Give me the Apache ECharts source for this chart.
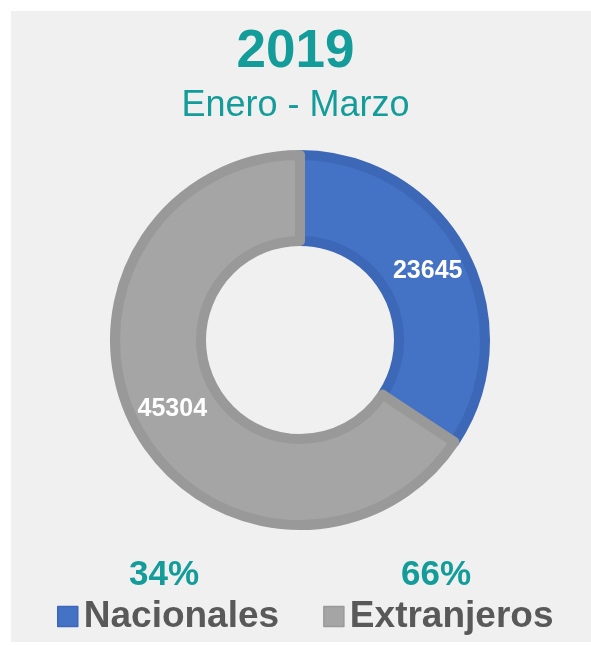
<!DOCTYPE html>
<html>
<head>
<meta charset="utf-8">
<script src="https://cdn.jsdelivr.net/npm/echarts@6/dist/echarts.min.js"></script>
<style>
  body { margin: 0; background: #ffffff; }
  .panel { position: absolute; left: 11px; top: 11px; width: 580px; height: 631px; background: #f0f0f0; }
  #chart { position: absolute; left: 0; top: 0; width: 591px; height: 645px; }
</style>
</head>
<body>
<div class="panel"></div>
<div id="chart"></div>
<script>
  // datos
  var categorias = ['Nacionales', 'Extranjeros'];
  var valores = [23645, 45304];
  var colores = ['#4472c4', '#a5a5a5'];
  var bordes = ['#3d68b8', '#999999'];
  var anio = '2019';
  var periodo = 'Enero - Marzo';

  var total = valores.reduce(function (a, b) { return a + b; }, 0);
  var porcentajes = valores.map(function (v) { return Math.round(v / total * 100) + '%'; });

  var myChart = echarts.init(document.getElementById('chart'));
  var fuente = '"Liberation Sans", Arial, sans-serif';
  var teal = '#139c99';

  var option = {
    backgroundColor: 'transparent',
    title: [
      {
        text: anio, left: 'center', top: 21,
        textStyle: { fontFamily: fuente, fontSize: 53, fontWeight: 'bold', color: teal }
      },
      {
        text: periodo, left: 'center', top: 83,
        textStyle: { fontFamily: fuente, fontSize: 36, fontWeight: 'normal', color: teal }
      }
    ],
    legend: {
      data: categorias,
      left: 57,
      top: 598,
      padding: 0,
      itemWidth: 20,
      itemHeight: 20,
      itemGap: 44,
      icon: 'rect',
      selectedMode: false,
      itemStyle: { borderWidth: 1.5 },
      textStyle: { fontFamily: fuente, fontSize: 37, fontWeight: 'bold', color: '#595959', padding: [0, 0, 0, 1] }
    },
    graphic: [
      {
        type: 'text', x: 164, y: 575,
        style: { text: porcentajes[0], font: 'bold 35px ' + fuente, fill: teal, align: 'center', verticalAlign: 'middle' }
      },
      {
        type: 'text', x: 436, y: 575,
        style: { text: porcentajes[1], font: 'bold 35px ' + fuente, fill: teal, align: 'center', verticalAlign: 'middle' }
      }
    ],
    series: [{
      type: 'pie',
      center: [300, 340],
      radius: [99, 185],
      startAngle: 90,
      clockwise: true,
      avoidLabelOverlap: false,
      silent: true,
      label: {
        show: true,
        position: 'inside',
        formatter: '{c}',
        fontFamily: fuente,
        fontSize: 25,
        fontWeight: 'bold',
        color: '#ffffff'
      },
      labelLine: { show: false },
      data: categorias.map(function (c, i) {
        return {
          name: c,
          value: valores[i],
          itemStyle: { color: colores[i], borderColor: bordes[i], borderWidth: 10 }
        };
      })
    }]
  };
  myChart.setOption(option);
</script>
</body>
</html>
